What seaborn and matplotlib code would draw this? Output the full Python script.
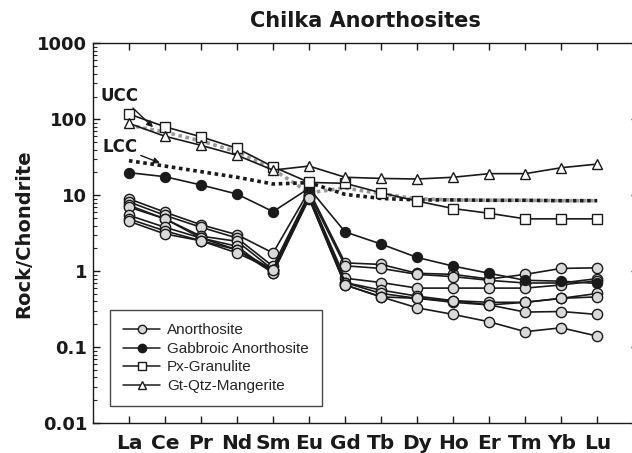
import matplotlib
matplotlib.use("Agg")
import matplotlib.pyplot as plt
import matplotlib.ticker as mticker
from matplotlib.lines import Line2D
import numpy as np
import pandas as pd
import seaborn as sns

# Chondrite-normalised rare earth element patterns
elements = ["La", "Ce", "Pr", "Nd", "Sm", "Eu", "Gd", "Tb", "Dy", "Ho", "Er", "Tm", "Yb", "Lu"]

anorthosite = [
    [9.0, 6.0, 4.1, 3.03, 1.74, 11.5, 1.29, 1.23, 0.94, 0.91, 0.79, 0.91, 1.09, 1.11],
    [8.2, 5.45, 3.8, 2.74, 1.16, 10.5, 1.18, 1.09, 0.91, 0.85, 0.76, 0.70, 0.70, 0.80],
    [7.4, 4.9, 2.9, 2.48, 1.05, 10.0, 0.81, 0.71, 0.60, 0.60, 0.60, 0.60, 0.66, 0.75],
    [7.0, 4.9, 2.74, 2.13, 0.95, 9.5, 0.71, 0.565, 0.47, 0.41, 0.39, 0.39, 0.44, 0.51],
    [5.45, 3.8, 2.74, 1.92, 1.05, 9.8, 0.71, 0.51, 0.44, 0.39, 0.36, 0.39, 0.44, 0.46],
    [4.9, 3.4, 2.52, 1.92, 0.95, 9.0, 0.66, 0.46, 0.44, 0.41, 0.36, 0.29, 0.295, 0.27],
    [4.55, 3.1, 2.52, 1.74, 1.05, 9.3, 0.66, 0.46, 0.33, 0.27, 0.216, 0.16, 0.18, 0.14],
]
gabbroic_anorthosite = [19.9, 17.6, 13.7, 10.4, 6.1, 12.4, 3.3, 2.28, 1.52, 1.17, 0.94, 0.76, 0.74, 0.69]
px_granulite = [118, 80, 59, 41.6, 23.8, 14.8, 14.4, 10.8, 8.4, 6.7, 5.8, 4.9, 4.9, 4.9]
gt_qtz_mangerite = [88.8, 60, 45.6, 33.7, 21.5, 24.3, 17.3, 16.7, 16.4, 17.3, 19.3, 19.3, 23.1, 25.8]
ucc = [84, 68, 52, 37.5, 22, 10.8, 12.5, 10.5, 9.0, 8.7, 8.6, 8.6, 8.5, 8.5]
lcc = [28.6, 24.3, 20.5, 17.3, 14.1, 14.7, 10.3, 9.1, 8.7, 8.7, 8.6, 8.6, 8.5, 8.5]

y_ticks = [0.01, 0.1, 1, 10, 100, 1000]
y_tick_labels = ["0.01", "0.1", "1", "10", "100", "1000"]

sns.set_theme(style="ticks")
plt.rcParams["font.family"] = ["Liberation Sans", "DejaVu Sans"]
bold_font = ["DejaVu Sans"]

pos = np.arange(len(elements))

fig = plt.figure(figsize=(6.32, 4.53), dpi=100)
ax = fig.add_axes([0.147, 0.066, 0.863, 0.838])

ink = "#1a1a1a"

# crustal reference curves, drawn beneath the samples
sns.lineplot(x=pos, y=ucc, ax=ax, color="#9a9a9a", lw=2.6, linestyle=(0, (1.0, 1.0)),
             sort=False, zorder=1)
sns.lineplot(x=pos, y=lcc, ax=ax, color=ink, lw=2.6, linestyle=(0, (1.0, 1.0)),
             sort=False, zorder=1)

for row in anorthosite:
    sns.lineplot(x=pos, y=row, ax=ax, color=ink, lw=1.2, marker="o", markersize=7.4,
                 markerfacecolor="#d9d9d9", markeredgecolor=ink, markeredgewidth=1.0,
                 sort=False, zorder=3)

sns.lineplot(x=pos, y=gabbroic_anorthosite, ax=ax, color=ink, lw=1.2, marker="o",
             markersize=7.4, markerfacecolor=ink, markeredgecolor=ink, sort=False, zorder=4)
sns.lineplot(x=pos, y=px_granulite, ax=ax, color=ink, lw=1.2, marker="s", markersize=6.5,
             markerfacecolor="white", markeredgecolor=ink, markeredgewidth=1.0,
             sort=False, zorder=4)
sns.lineplot(x=pos, y=gt_qtz_mangerite, ax=ax, color=ink, lw=1.2, marker="^", markersize=7.8,
             markerfacecolor="white", markeredgecolor=ink, markeredgewidth=1.0,
             sort=False, zorder=4)

ax.set_yscale("log")
ax.set_ylim(0.01, 1000)
ax.set_xlim(-1, 14.14)

ax.set_xticks(pos)
ax.set_xticklabels(elements, fontsize=14.5, fontweight="bold", family=bold_font)
ax.set_yticks(y_ticks)
ax.set_yticklabels(y_tick_labels, fontsize=13, fontweight="bold", family=bold_font)
ax.yaxis.set_minor_locator(mticker.LogLocator(base=10, subs=np.arange(2, 10)))
ax.yaxis.set_minor_formatter(mticker.NullFormatter())
ax.tick_params(axis="both", which="major", direction="in", length=5, width=1.0,
               top=True, right=True, colors=ink)
ax.tick_params(axis="y", which="minor", direction="in", length=3, width=0.8, right=False)
ax.tick_params(axis="y", which="major", pad=4)
ax.tick_params(axis="x", pad=8)
for sp in ax.spines.values():
    sp.set_linewidth(1.0)
    sp.set_color(ink)

ax.set_ylabel("Rock/Chondrite", fontsize=14, fontweight="bold", family=bold_font,
              labelpad=3, color=ink)
ax.set_xlabel("")
ax.set_title("Chilka Anorthosites", fontsize=15, fontweight="bold", family=bold_font,
             pad=12, color=ink)

# labels for the crustal averages
arrow = dict(arrowstyle="-|>", color=ink, lw=1.0, mutation_scale=9, shrinkA=0, shrinkB=0)
ax.annotate("UCC", xy=(0.67, 79), xytext=(-0.25, 205), fontsize=12, fontweight="bold",
            family=bold_font, ha="center", va="center", arrowprops=arrow, color=ink)
ax.annotate("LCC", xy=(0.86, 26.7), xytext=(-0.25, 43), fontsize=12, fontweight="bold",
            family=bold_font, ha="center", va="center", arrowprops=arrow, color=ink)

handles = [
    Line2D([], [], color=ink, lw=1.1, marker="o", markersize=6, markerfacecolor="#d9d9d9",
           markeredgecolor=ink),
    Line2D([], [], color=ink, lw=1.1, marker="o", markersize=6, markerfacecolor=ink,
           markeredgecolor=ink),
    Line2D([], [], color=ink, lw=1.1, marker="s", markersize=5.5, markerfacecolor="white",
           markeredgecolor=ink),
    Line2D([], [], color=ink, lw=1.1, marker="^", markersize=6, markerfacecolor="white",
           markeredgecolor=ink),
]
labels = ["Anorthosite", "Gabbroic Anorthosite", "Px-Granulite", "Gt-Qtz-Mangerite"]
leg = ax.legend(handles, labels, loc="lower left", bbox_to_anchor=(0.032, 0.045),
                fontsize=11, frameon=True, fancybox=False, edgecolor=ink,
                handlelength=2.4, handletextpad=0.45, labelspacing=0.3,
                borderpad=0.85, borderaxespad=0)
leg.get_frame().set_linewidth(1.0)

fig.savefig("out.png", dpi=100)
